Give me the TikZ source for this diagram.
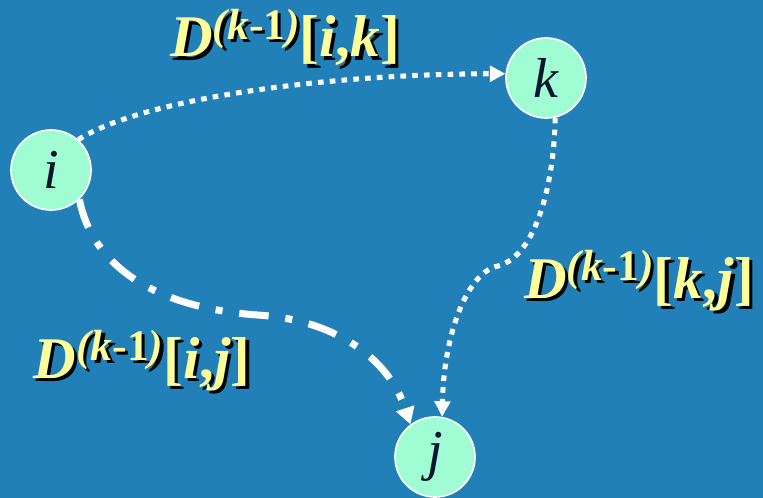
\documentclass[tikz,border=0pt]{standalone}
\usepackage{fontspec}
\setmainfont{Liberation Serif}
\usepackage{xcolor}
\usepackage{tikz}
\usetikzlibrary{arrows.meta}
\definecolor{pBlue}{HTML}{2180B8}
\definecolor{pMint}{HTML}{A0FCD2}
\definecolor{pYellow}{HTML}{FFFF99}
\definecolor{pInk}{HTML}{0B1530}
\newcommand{\shadowed}[1]{\makebox[0pt][l]{\hspace{2.4pt}\raisebox{-2.4pt}{\color{black}#1}}#1}
\newcommand{\Dprev}[2]{\shadowed{D\raisebox{0.3em}{\fontsize{31}{32}\selectfont(\textit{k}\textup{-1})}\textup{[}#1\textup{,}#2\textup{]}}}
\tikzset{
  vertex/.style={circle, draw=white, line width=1.2pt, fill=pMint, minimum size=2cm,
    inner sep=0pt, text=pInk, font=\fontsize{40}{44}\selectfont\itshape},
  distlbl/.style={inner sep=0pt, text=pYellow, font=\fontsize{42}{48}\selectfont\bfseries\itshape},
  via/.style={draw=white, line width=3.6pt, dash pattern=on 4pt off 4.4pt,
    -{Triangle[width=11pt,length=11pt]}},
  direct/.style={draw=white, line width=5pt, dash pattern=on 21pt off 12pt on 5pt off 12pt,
    -{Triangle[width=13pt,length=12pt]}},
}

\begin{document}
\begin{tikzpicture}
  \fill[pBlue] (0,0) rectangle (19.075,-12.45);
  \useasboundingbox (0,0) rectangle (19.075,-12.45);

  % vertices
  \node[vertex] (i) at (1.275,-4.25) {i};
  \node[vertex] (k) at (13.65,-1.95) {k};
  \node[vertex] (j) at (10.875,-11.425) {j};

  % distances
  \node[distlbl] (lik) at (7.125,-0.975) {\Dprev{i}{k}};
  \node[distlbl] (lkj) at (15.975,-7.05) {\Dprev{k}{j}};
  \node[distlbl] (lij) at (3.55,-9.05) {\Dprev{i}{j}};

  % paths
  \draw[via] (i.48) .. controls (3.5,-2.5) and (8,-1.85) .. (k.174);
  \draw[via] (k.-77) .. controls (13.85,-4.6) and (13.4,-6.4) .. (12.45,-6.65)
    .. controls (11.7,-6.8) and (11.1,-8.3) .. (j.80);
  \draw[direct] (i.-46) .. controls (2.3,-6.6) and (3.8,-7.7) .. (6.5,-7.88)
    .. controls (8.3,-8.0) and (9.7,-8.9) .. (j.127);
\end{tikzpicture}
\end{document}
